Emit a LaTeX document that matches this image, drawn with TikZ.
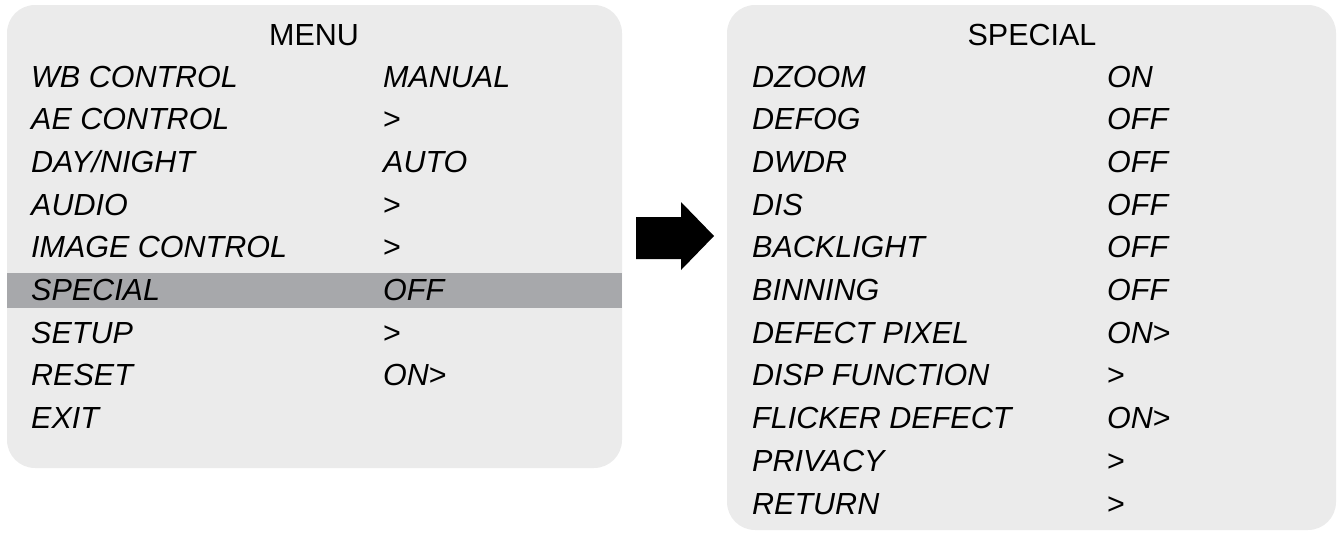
\documentclass[tikz,border=0pt]{standalone}
\usepackage{fontspec}
\setmainfont{Liberation Sans}
\definecolor{panelgray}{HTML}{EBEBEB}
\definecolor{selgray}{HTML}{A7A8AB}
\newcommand{\gtmark}{{\upshape >}}
\tikzset{
  panel/.style={fill=panelgray, rounded corners=28pt},
  menuitem/.style={anchor=base west, inner sep=0pt, font=\fontsize{30.5}{36}\selectfont\itshape},
  menutitle/.style={anchor=base, inner sep=0pt, font=\fontsize{30.5}{36}\selectfont},
}
\begin{document}
\begin{tikzpicture}[x=1pt,y=-1pt]
    \useasboundingbox (0,0) rectangle (1343,533);
    \def\dy{42.7} \def\yo{87} % Zeilenabstand, erste Grundlinie
    % linkes Menue
    \fill[panel] (7,5) rectangle (622,468);
    \fill[selgray] (7,273) rectangle (622,308);
    \node[menutitle] (menu) at (314,45) {MENU};
    \foreach \name/\val [count=\i from 0] in {WB CONTROL/MANUAL, AE CONTROL/\gtmark, {DAY/NIGHT}/AUTO, AUDIO/\gtmark, IMAGE CONTROL/\gtmark, SPECIAL/OFF, SETUP/\gtmark, RESET/ON\gtmark, EXIT/{}}{
        \node[menuitem] (l\i) at (31,\yo+\i*\dy) {\name};
        \node[menuitem] (lv\i) at (383,\yo+\i*\dy) {\val};
    }
    % Pfeil
    \fill (636,217)--(681,217)--(681,202)--(714,236)--(681,270)--(681,259)--(636,259)--cycle;
    % rechtes Menue
    \fill[panel] (727,5) rectangle (1336,530);
    \node[menutitle] (special) at (1032,45) {SPECIAL};
    \foreach \name/\val [count=\i from 0] in {DZOOM/ON, DEFOG/OFF, DWDR/OFF, DIS/OFF, BACKLIGHT/OFF, BINNING/OFF, DEFECT PIXEL/ON\gtmark, DISP FUNCTION/\gtmark, FLICKER DEFECT/ON\gtmark, PRIVACY/\gtmark, RETURN/\gtmark}{
        \node[menuitem] (r\i) at (752,\yo+\i*\dy) {\name};
        \node[menuitem] (rv\i) at (1107,\yo+\i*\dy) {\val};
    }
\end{tikzpicture}
\end{document}
